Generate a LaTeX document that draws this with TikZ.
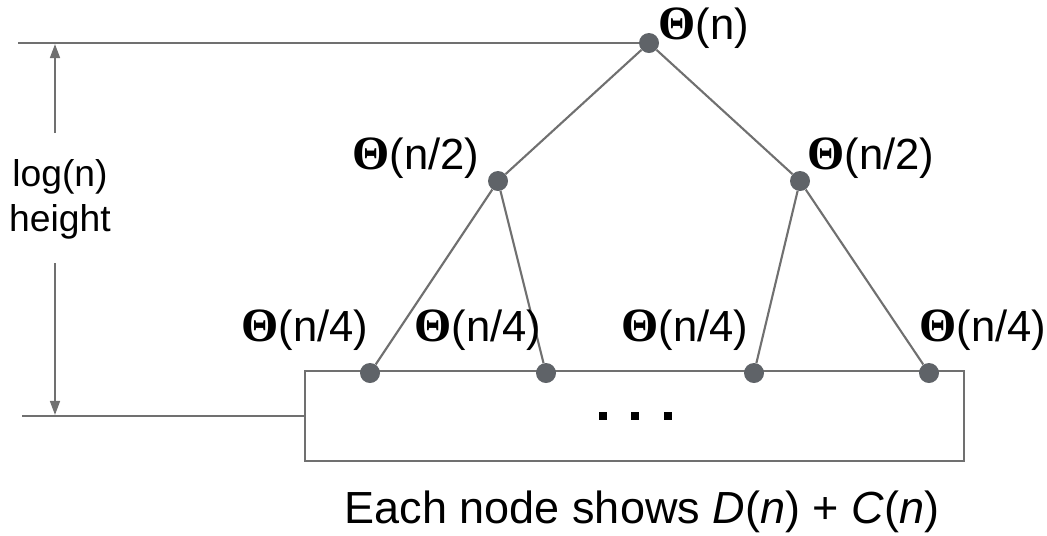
\documentclass[tikz,border=0pt]{standalone}
\usepackage{fontspec}
\setmainfont{Liberation Sans}
\newfontfamily\thetafont{Liberation Serif}
\usetikzlibrary{arrows.meta}
\definecolor{linegray}{HTML}{707070}
\definecolor{dotgray}{HTML}{5F6368}
\newcommand{\Th}{{\thetafont\bfseries\fontsize{34}{36}\selectfont Θ}}

\begin{document}
\begin{tikzpicture}[x=0.025cm, y=-0.025cm,
	edge/.style={draw=linegray, line width=1.5pt},
	dot/.style={circle, fill=dotgray, inner sep=0pt, minimum size=0.5cm},
	lbl/.style={font=\fontsize{31}{36}\selectfont},
	dim/.style={draw=linegray, line width=1.5pt, -{Triangle[length=10pt,width=7pt]}},
	sq/.style={fill=black, inner sep=0pt, minimum size=0.22cm}]
	\useasboundingbox (0,0) rectangle (1047,535);

	% bottom box
	\node[edge, inner sep=0pt, minimum width=16.475cm, minimum height=2.25cm] (box) at (634.5,416) {};
	\foreach \x [count=\i] in {603,635,668}
		\node[sq] (sq\i) at (\x,416) {};

	% tree
	\node[dot] (root) at (649,43) {};
	\node[dot] (la) at (498,181) {};
	\node[dot] (lb) at (800,181) {};
	\node[dot] (laa) at (370,373) {};
	\node[dot] (lab) at (546,373) {};
	\node[dot] (lba) at (754,373) {};
	\node[dot] (lbb) at (929,373) {};
	\draw[edge] (root) -- (la);
	\draw[edge] (root) -- (lb);
	\draw[edge] (la) -- (laa);
	\draw[edge] (la) -- (lab);
	\draw[edge] (lb) -- (lba);
	\draw[edge] (lb) -- (lbb);

	\node[lbl] (troot) at (704,28) {\Th(n)};
	\node[lbl] (ta) at (416,158) {\Th(n/2)};
	\node[lbl] (tb) at (871,158) {\Th(n/2)};
	\node[lbl] (taa) at (305,330) {\Th(n/4)};
	\node[lbl] (tab) at (478,330) {\Th(n/4)};
	\node[lbl] (tba) at (685,330) {\Th(n/4)};
	\node[lbl] (tbb) at (983,330) {\Th(n/4)};

	% height marker
	\coordinate (topend) at (18,43);
	\coordinate (botend) at (22,416);
	\draw[edge] (topend) -- (root);
	\draw[edge] (botend) -- (box.west);
	\node[align=center, font=\fontsize{26.5}{32}\selectfont] (hgt) at (60,199) {log(n)\\height};
	\coordinate (aup) at (55,133);
	\coordinate (atop) at (55,44);
	\coordinate (adn) at (55,263);
	\coordinate (abot) at (55,415);
	\draw[dim] (aup) -- (atop);
	\draw[dim] (adn) -- (abot);

	\node[anchor=base, font=\fontsize{32}{38}\selectfont] (cap) at (642,523) {Each node shows \textit{D}(\textit{n}) + \textit{C}(\textit{n})};
\end{tikzpicture}
\end{document}
